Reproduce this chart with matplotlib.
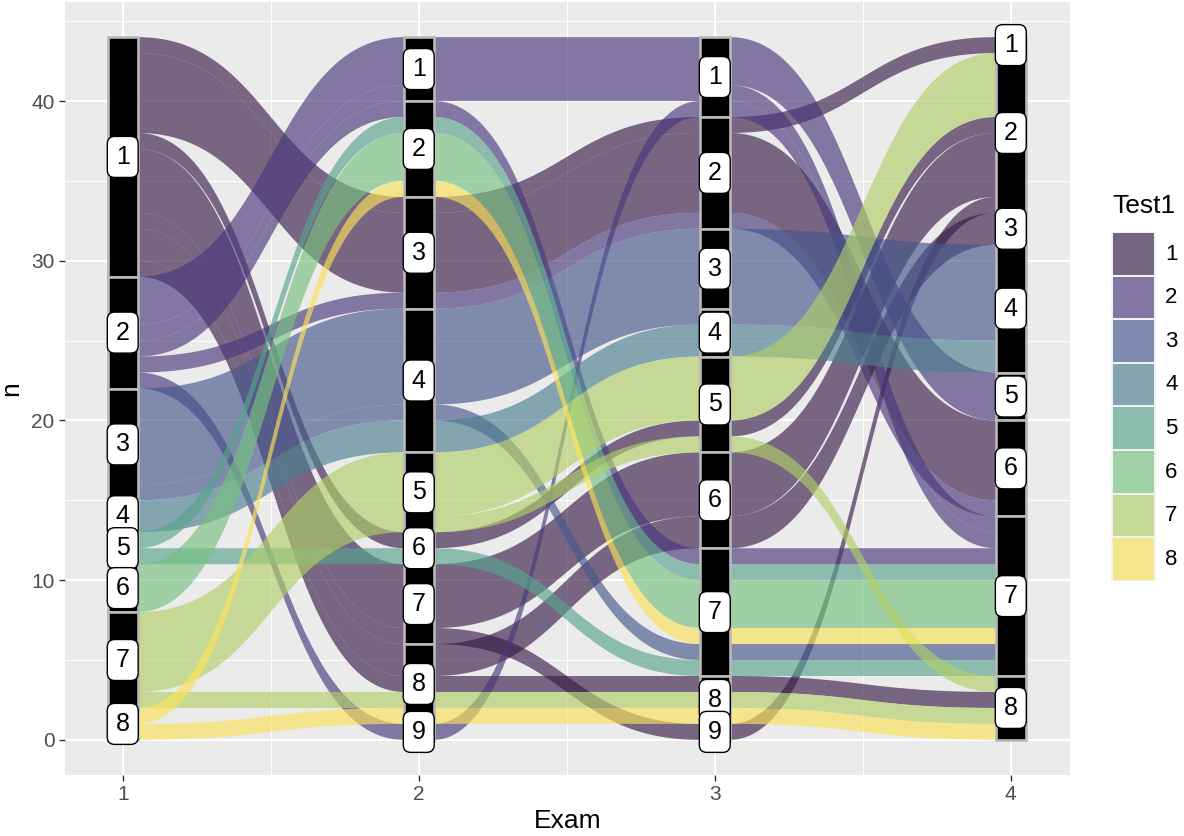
import numpy as np
import matplotlib
matplotlib.use("Agg")
import matplotlib.pyplot as plt
from matplotlib.patches import Rectangle
from matplotlib.colors import to_rgb

plt.rcParams['font.family'] = ['Liberation Sans', 'DejaVu Sans']

# one entry per student, grade band at each exam
exam_axes = [1, 2, 3, 4]
exam1 = [1, 1, 1, 1, 1, 1, 1, 1, 1, 1, 1, 1, 1, 1, 1,
         2, 2, 2, 2, 2, 2, 2,
         3, 3, 3, 3, 3, 3, 3,
         4, 4, 5, 5, 6, 6, 6,
         7, 7, 7, 7, 7, 7, 8, 8]
exam2 = [3, 3, 3, 3, 3, 3, 6, 7, 7, 7, 7, 7, 8, 8, 8,
         1, 1, 1, 1, 9, 2, 3,
         4, 4, 4, 4, 4, 4, 4,
         4, 4, 2, 6, 2, 2, 2,
         5, 5, 5, 5, 5, 8, 2, 8]
exam3 = [2, 2, 2, 2, 2, 2, 5, 6, 6, 6, 6, 9, 6, 6, 8,
         1, 1, 1, 1, 1, 7, 2,
         3, 3, 3, 3, 3, 4, 7,
         4, 4, 7, 7, 7, 7, 7,
         5, 5, 5, 5, 5, 8, 7, 8]
exam4 = [1, 6, 6, 6, 6, 6, 2, 2, 2, 2, 2, 2, 3, 3, 8,
         5, 5, 5, 7, 7, 7, 6,
         4, 4, 4, 4, 4, 4, 7,
         4, 4, 7, 7, 7, 7, 7,
         2, 2, 2, 2, 8, 8, 7, 8]

test1_levels = [1, 2, 3, 4, 5, 6, 7, 8]
# viridis-like, slightly muted to match the reference rendering
test1_colors = ['#391E48', '#4A397C', '#45578D', '#4D7F90',
                '#59A38D', '#77C17F', '#B1CF68', '#FAE359']

ALPHA = 0.65
W = 0.1          # stratum width
BG = '#EBEBEB'

paths = np.array([exam1, exam2, exam3, exam4]).T
n = len(paths)

# zigzag lode guidance, like ggalluvial
guide = [[0, 1, 2, 3], [1, 0, 2, 3], [2, 3, 1, 0], [3, 2, 1, 0]]
tops = np.zeros((n, 4))
for i, g in enumerate(guide):
    order = sorted(range(n), key=lambda s: tuple(paths[s][j] for j in g) + (s,))
    y = n
    for s in order:
        tops[s, i] = y
        y -= 1

# bundle students whose ribbons run side by side the whole way (avoids seams)
bundles = []
used = set()
for s in sorted(range(n), key=lambda s: -tops[s, 0]):
    if s in used:
        continue
    grp = [s]
    used.add(s)
    while True:
        last = grp[-1]
        nxt = [t for t in range(n) if t not in used and paths[t][0] == paths[last][0]
               and np.all(tops[t] == tops[last] - 1)]
        if not nxt:
            break
        grp.append(nxt[0])
        used.add(nxt[0])
    bundles.append(grp)


def edge(yvals):
    xs, ys = [], []
    for i in range(4):
        xs += [exam_axes[i] - W / 2, exam_axes[i] + W / 2]
        ys += [yvals[i], yvals[i]]
        if i < 3:
            xa = exam_axes[i] + W / 2
            xb = exam_axes[i + 1] - W / 2
            dx = xb - xa
            t = np.linspace(0, 1, 90)[1:-1]
            bx = ((1 - t) ** 3 * xa + 3 * (1 - t) ** 2 * t * (xa + dx / 2)
                  + 3 * (1 - t) * t ** 2 * (xb - dx / 2) + t ** 3 * xb)
            by = ((1 - t) ** 3 + 3 * (1 - t) ** 2 * t) * yvals[i] + \
                 (3 * (1 - t) * t ** 2 + t ** 3) * yvals[i + 1]
            xs += list(bx)
            ys += list(by)
    return np.array(xs), np.array(ys)


fig = plt.figure(figsize=(11.84, 8.36), dpi=100)
ax = fig.add_axes([65 / 1184, 61 / 836, 1005 / 1184, 773 / 836])
ax.set_facecolor(BG)

for grp in sorted(bundles, key=min):
    xt, yt = edge(tops[grp[0]])
    xb, yb = edge(tops[grp[-1]] - 1)
    col = test1_colors[test1_levels.index(paths[grp[0]][0])]
    ax.fill(np.r_[xt, xb[::-1]], np.r_[yt, yb[::-1]], color=col, alpha=ALPHA,
            lw=0, zorder=2)

# strata boxes and labels
for i, x in enumerate(exam_axes):
    vals = paths[:, i]
    ytop = n
    for k in sorted(set(vals)):
        cnt = int((vals == k).sum())
        ax.add_patch(Rectangle((x - W / 2, ytop - cnt), W, cnt, fc='black',
                               ec='#B8B8B8', lw=1.9, zorder=3))
        ytop -= cnt
    ytop = n
    for k in sorted(set(vals)):
        cnt = int((vals == k).sum())
        ax.text(x, ytop - cnt / 2, str(k), ha='center', va='center', fontsize=18,
                zorder=5,
                bbox=dict(boxstyle='round,pad=0.34,rounding_size=0.3', fc='white',
                          ec='black', lw=1))
        ytop -= cnt

ax.set_xlim(0.805, 4.2)
ax.set_ylim(-2.2, 46.2)
ax.set_xticks(exam_axes)
ax.set_yticks([0, 10, 20, 30, 40])
ax.set_xticks([1.5, 2.5, 3.5], minor=True)
ax.set_yticks([5, 15, 25, 35, 45], minor=True)
ax.grid(which='major', color='white', lw=1.5, zorder=0)
ax.grid(which='minor', color='white', lw=0.75, zorder=0)
ax.set_axisbelow(True)
for sp in ax.spines.values():
    sp.set_visible(False)
ax.tick_params(which='major', length=4, width=1, color='#333333',
               labelsize=15, labelcolor='#4D4D4D')
ax.tick_params(which='minor', length=0)
ax.set_xlabel('Exam', fontsize=19, labelpad=3)
ax.set_ylabel('n', fontsize=19, labelpad=6)

# legend, laid out in pixel coordinates
lg = fig.add_axes([0, 0, 1, 1], zorder=10)
lg.set_xlim(0, 1184)
lg.set_ylim(836, 0)
lg.axis('off')
bgc = np.array(to_rgb(BG))
lg.text(1112, 206, 'Test1', fontsize=19, ha='left', va='center')
for k, (lev, c) in enumerate(zip(test1_levels, test1_colors)):
    y0 = 233 + 43.6 * k
    lg.add_patch(Rectangle((1111, y0 - 1), 45, 43.6, fc='#F2F2F2', ec='none'))
    blend = tuple(np.array(to_rgb(c)) * ALPHA + bgc * (1 - ALPHA))
    lg.add_patch(Rectangle((1113, y0), 41, 41.6, fc=blend, ec='none'))
    lg.text(1165, y0 + 21, str(lev), fontsize=16, ha='left', va='center')

fig.savefig('out.png', dpi=100)
